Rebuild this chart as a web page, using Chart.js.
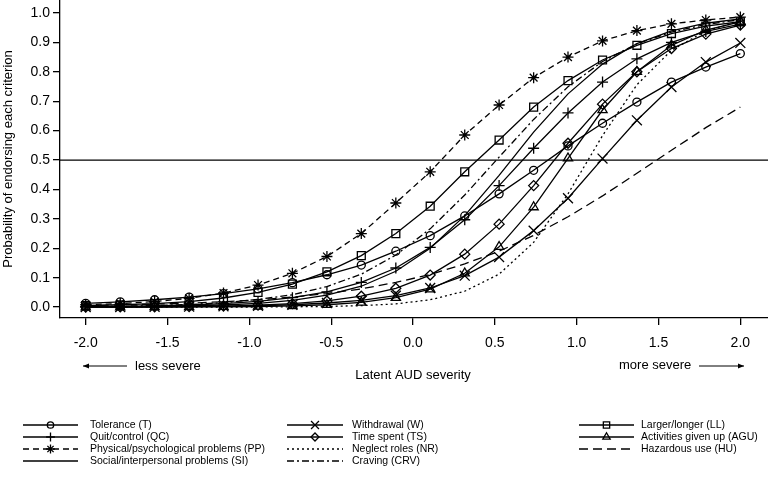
<!DOCTYPE html>
<html><head><meta charset="utf-8">
<script src="https://cdn.jsdelivr.net/npm/chart.js@4.4.0/dist/chart.umd.min.js"></script>
<style>html,body{margin:0;padding:0;background:#fff;}#wrap{width:768px;height:481px;}</style>
</head><body><div id="wrap"><canvas id="c" width="768" height="481"></canvas></div>
<script>
// Latent AUD severity (x positions of plotted points)
const severity = [-2.000,-1.789,-1.579,-1.368,-1.158,-0.947,-0.737,-0.526,-0.316,-0.105,0.105,0.316,0.526,0.737,0.947,1.158,1.368,1.579,1.789,2.000];
const xTicks = [-2.0,-1.5,-1.0,-0.5,0.0,0.5,1.0,1.5,2.0];
const yTicks = [0.0,0.1,0.2,0.3,0.4,0.5,0.6,0.7,0.8,0.9,1.0];

const tolerance     = [0.013,0.018,0.025,0.034,0.046,0.062,0.083,0.110,0.143,0.190,0.243,0.310,0.385,0.465,0.548,0.625,0.697,0.765,0.816,0.862];
const withdrawal    = [0.0003,0.0005,0.0009,0.0015,0.0027,0.0047,0.008,0.014,0.023,0.039,0.065,0.107,0.170,0.260,0.370,0.505,0.635,0.748,0.833,0.898];
const largerLonger  = [0.005,0.008,0.012,0.019,0.031,0.050,0.078,0.120,0.175,0.250,0.343,0.460,0.568,0.680,0.770,0.840,0.890,0.930,0.955,0.970];
const quitControl   = [0.0016,0.0026,0.0043,0.0072,0.0118,0.0195,0.032,0.052,0.084,0.133,0.203,0.297,0.413,0.540,0.660,0.765,0.844,0.900,0.937,0.962];
const timeSpent     = [0.0004,0.0006,0.0011,0.002,0.0037,0.0066,0.0118,0.021,0.037,0.064,0.109,0.180,0.282,0.413,0.557,0.690,0.800,0.879,0.928,0.959];
const activitiesGU  = [0.0001,0.0001,0.0003,0.0005,0.001,0.002,0.004,0.008,0.016,0.032,0.061,0.115,0.205,0.340,0.506,0.670,0.800,0.890,0.942,0.970];
const physPsych     = [0.008,0.012,0.019,0.030,0.048,0.075,0.115,0.172,0.250,0.354,0.460,0.585,0.687,0.780,0.850,0.905,0.940,0.963,0.976,0.986];
const neglectRoles  = [0.00001,0.00003,0.00006,0.0001,0.0003,0.0005,0.001,0.0023,0.005,0.011,0.025,0.054,0.112,0.220,0.385,0.583,0.756,0.873,0.939,0.972];
const hazardousUse  = [0.0053,0.0073,0.0099,0.0135,0.0185,0.025,0.034,0.046,0.062,0.084,0.111,0.147,0.190,0.244,0.307,0.378,0.455,0.533,0.610,0.680];
const socialInterp  = [0.0007,0.0012,0.0022,0.004,0.0072,0.013,0.023,0.041,0.071,0.122,0.200,0.311,0.448,0.595,0.725,0.826,0.896,0.939,0.965,0.980];
const craving       = [0.0019,0.0032,0.0054,0.009,0.015,0.026,0.042,0.070,0.112,0.177,0.266,0.381,0.510,0.638,0.749,0.835,0.895,0.935,0.961,0.977];

const FONT = "'Liberation Sans', Arial, Helvetica, sans-serif";
const DASH = { solid: [], dashed: [6,4], longdash: [9,5], dotted: [2,3], dotdash: [7,3,2,3] };

const series = [
  {label:'Tolerance (T)', data:tolerance, pt:'circle', r:4, dash:'solid', col:0, row:0},
  {label:'Quit/control (QC)', data:quitControl, pt:'cross', r:5.5, dash:'solid', col:0, row:1},
  {label:'Physical/psychological problems (PP)', data:physPsych, pt:'star', r:5.5, dash:'dashed', col:0, row:2},
  {label:'Social/interpersonal problems (SI)', data:socialInterp, pt:null, r:0, dash:'solid', col:0, row:3},
  {label:'Withdrawal (W)', data:withdrawal, pt:'crossRot', r:7, dash:'solid', col:1, row:0},
  {label:'Time spent (TS)', data:timeSpent, pt:'rectRot', r:5, dash:'solid', col:1, row:1},
  {label:'Neglect roles (NR)', data:neglectRoles, pt:null, r:0, dash:'dotted', col:1, row:2},
  {label:'Craving (CRV)', data:craving, pt:null, r:0, dash:'dotdash', col:1, row:3},
  {label:'Larger/longer (LL)', data:largerLonger, pt:'rect', r:5.6, dash:'solid', col:2, row:0},
  {label:'Activities given up (AGU)', data:activitiesGU, pt:'triangle', r:5.3, dash:'solid', col:2, row:1},
  {label:'Hazardous use (HU)', data:hazardousUse, pt:null, r:0, dash:'longdash', col:2, row:2}
];

const datasets = series.map(s => ({
  label: s.label,
  data: severity.map((x, i) => ({x: x, y: s.data[i]})),
  borderColor: '#000', borderWidth: 1.3, borderDash: DASH[s.dash],
  pointStyle: s.pt || 'circle', pointRadius: s.pt ? s.r : 0, pointHoverRadius: s.pt ? s.r : 0,
  pointBorderColor: '#000', pointBackgroundColor: 'rgba(0,0,0,0)', pointBorderWidth: 1.3,
  tension: 0, fill: false
}));

function marker(ctx, style, x, y, r) {
  ctx.beginPath();
  const d = r * Math.SQRT1_2;
  switch (style) {
    case 'circle': ctx.arc(x, y, r, 0, Math.PI * 2); break;
    case 'rect': ctx.rect(x - d, y - d, 2 * d, 2 * d); break;
    case 'rectRot': ctx.moveTo(x - r, y); ctx.lineTo(x, y - r); ctx.lineTo(x + r, y); ctx.lineTo(x, y + r); ctx.closePath(); break;
    case 'triangle': {
      const w = r * Math.sqrt(3) / 2;
      ctx.moveTo(x, y - r); ctx.lineTo(x + w, y + r / 2); ctx.lineTo(x - w, y + r / 2); ctx.closePath(); break;
    }
    case 'cross': ctx.moveTo(x, y - r); ctx.lineTo(x, y + r); ctx.moveTo(x - r, y); ctx.lineTo(x + r, y); break;
    case 'crossRot': ctx.moveTo(x - d, y - d); ctx.lineTo(x + d, y + d); ctx.moveTo(x + d, y - d); ctx.lineTo(x - d, y + d); break;
    case 'star':
      ctx.moveTo(x, y - r); ctx.lineTo(x, y + r); ctx.moveTo(x - r, y); ctx.lineTo(x + r, y);
      ctx.moveTo(x - d, y - d); ctx.lineTo(x + d, y + d); ctx.moveTo(x + d, y - d); ctx.lineTo(x - d, y + d); break;
  }
  ctx.stroke();
}

function arrow(ctx, x1, x2, y) {
  ctx.beginPath(); ctx.moveTo(x1, y); ctx.lineTo(x2, y); ctx.stroke();
  const dir = x2 > x1 ? -1 : 1;
  ctx.beginPath();
  ctx.moveTo(x2 + dir * 6, y - 2.5); ctx.lineTo(x2, y); ctx.lineTo(x2 + dir * 6, y + 2.5);
  ctx.closePath(); ctx.fill();
}

const extras = {
  id: 'extras',
  beforeDatasetsDraw(chart) {
    const {ctx, chartArea, scales} = chart;
    const y = scales.y.getPixelForValue(0.5);
    ctx.save(); ctx.strokeStyle = '#000'; ctx.lineWidth = 1.3;
    ctx.beginPath(); ctx.moveTo(chartArea.left, y); ctx.lineTo(chartArea.right, y); ctx.stroke();
    ctx.restore();
  },
  afterDraw(chart) {
    const {ctx} = chart;
    ctx.save();
    ctx.fillStyle = '#000'; ctx.strokeStyle = '#000';
    ctx.font = '13px ' + FONT;
    ctx.textAlign = 'center'; ctx.textBaseline = 'middle';
    ctx.save(); ctx.translate(8, 159); ctx.rotate(-Math.PI / 2);
    ctx.fillText('Probability of endorsing each criterion', 0, 0); ctx.restore();
    ctx.fillText('Latent AUD severity', 413, 375);
    ctx.textAlign = 'left';
    ctx.fillText('less severe', 135, 366);
    ctx.fillText('more severe', 619, 365);
    ctx.lineWidth = 1;
    arrow(ctx, 127, 83, 366);
    arrow(ctx, 699, 744, 366);
    const colX = [[23, 78, 90], [287, 343, 352], [579, 634, 641]];
    const rowY = [425, 437, 449, 461];
    ctx.font = '10.5px ' + FONT;
    ctx.textBaseline = 'middle';
    series.forEach(s => {
      const [x1, x2, tx] = colX[s.col];
      const y = rowY[s.row];
      ctx.lineWidth = 1.3;
      ctx.setLineDash(DASH[s.dash]);
      ctx.beginPath(); ctx.moveTo(x1, y); ctx.lineTo(x2, y); ctx.stroke();
      ctx.setLineDash([]);
      if (s.pt) marker(ctx, s.pt, (x1 + x2) / 2, y, s.r * 0.8);
      ctx.fillText(s.label, tx, y);
    });
    ctx.restore();
  }
};

const tickFont = {family: FONT, size: 14};
new Chart(document.getElementById('c'), {
  type: 'line',
  data: {datasets},
  options: {
    responsive: false, animation: false, devicePixelRatio: 1,
    layout: {padding: 0, autoPadding: false},
    plugins: {legend: {display: false}, tooltip: {enabled: false}, title: {display: false}},
    scales: {
      x: {
        type: 'linear', min: -2.157, max: 2.169,
        afterBuildTicks: s => { s.ticks = xTicks.map(v => ({value: v})); },
        ticks: {callback: v => Number(v).toFixed(1), font: tickFont, color: '#000', padding: 10, maxRotation: 0, autoSkip: false},
        grid: {drawOnChartArea: false, drawTicks: true, tickLength: 7, color: '#000', lineWidth: 1.3},
        border: {display: true, color: '#000', width: 1.3},
        afterFit: s => { s.height = 163; s.paddingLeft = 0; s.paddingRight = 0; }
      },
      y: {
        type: 'linear', min: -0.037, max: 1.044,
        afterBuildTicks: s => { s.ticks = yTicks.map(v => ({value: v})); },
        ticks: {callback: v => Number(v).toFixed(1), font: tickFont, color: '#000', padding: 3, autoSkip: false},
        grid: {drawOnChartArea: false, drawTicks: true, tickLength: 7, color: '#000', lineWidth: 1.3},
        border: {display: true, color: '#000', width: 1.3},
        afterFit: s => { s.width = 60; s.paddingTop = 0; s.paddingBottom = 0; }
      }
    }
  },
  plugins: [extras]
});
</script>
</body></html>
